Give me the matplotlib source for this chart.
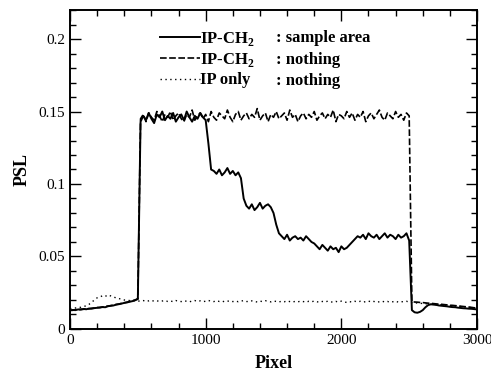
import numpy as np
import matplotlib
matplotlib.use('Agg')
import matplotlib.pyplot as plt
from matplotlib.ticker import MultipleLocator, FormatStrFormatter

plt.rcParams['font.family'] = ['Liberation Serif', 'DejaVu Serif']
plt.rcParams['mathtext.fontset'] = 'custom'
plt.rcParams['mathtext.rm'] = 'Liberation Serif'
plt.rcParams['mathtext.bf'] = 'Liberation Serif:bold'

# pixel positions, every 20 px from 0 to 3000
pixel = np.arange(0, 3001, 20)

# IP-CH2 : sample area (solid)
psl_sample = [
    .0128, .0131, .0130, .0135, .0133, .0138, .0136, .0141, .0140, .0144,
    .0146, .0149, .0151, .0150, .0157, .0160, .0162, .0168, .0171, .0175,
    .0180, .0183, .0188, .0192, .0198, .0210,
    .143, .147, .144, .149, .145, .142, .148, .146, .150, .144,
    .147, .145, .149, .143, .146, .148, .144, .150, .146, .143,
    .147, .145, .149, .146, .144,
    .128, .110,
    .109, .107, .110, .106, .108, .111, .107, .109, .106, .108,
    .104, .090,
    .085, .083, .086, .082, .084, .087, .083, .085, .086, .084,
    .080, .072, .066,
    .064, .062, .065, .061, .063, .064, .062, .063, .061, .064,
    .062, .060, .059,
    .057, .055, .058, .056, .054, .057, .055, .056, .053, .057,
    .055, .056, .058, .060,
    .062, .064, .063, .065, .062, .066, .064, .063, .065, .062,
    .064, .066, .063, .065, .064, .062, .065, .063, .064, .066, .061,
    .0130, .0115, .0112, .0118, .0130, .0150, .0165, .0170, .0168, .0166,
    .0162, .0160, .0158, .0156, .0153, .0151, .0150, .0147, .0145, .0143,
    .0142, .0140, .0139, .0137, .0135,
]

# IP-CH2 : nothing (dashed)
psl_ch2 = [
    .0130, .0129, .0134, .0132, .0137, .0136, .0140, .0139, .0143, .0145,
    .0148, .0147, .0152, .0155, .0158, .0161, .0165, .0169, .0172, .0177,
    .0181, .0185, .0190, .0195, .0200, .0205,
    .145, .148, .143, .149, .146, .144, .150, .147, .143, .148,
    .146, .150, .144, .147, .149, .145, .143, .148, .146, .151,
    .144, .147, .149, .145, .148, .143, .150, .146, .144, .149,
    .147, .145, .151, .146, .143, .148, .150, .144, .147, .149,
    .145, .148, .146, .152, .144, .147, .149, .143, .148, .146,
    .150, .145, .147, .149, .144, .151, .146, .148, .143, .147,
    .149, .145, .148, .146, .150, .144, .147, .149, .145, .148,
    .146, .151, .143, .148, .147, .145, .150, .146, .149, .144,
    .148, .146, .150, .143, .147, .149, .145, .148, .151, .146,
    .144, .149, .147, .145, .150, .146, .148, .144, .149, .147,
    .0188, .0186, .0185, .0183, .0182, .0180, .0178, .0177, .0175, .0173,
    .0171, .0170, .0168, .0166, .0164, .0163, .0161, .0159, .0157, .0155,
    .0153, .0151, .0149, .0146, .0143,
]

# IP only : nothing (dotted)
psl_ip = [
    .0140, .0142, .0145, .0147, .0150, .0155, .0160, .0170, .0185, .0200,
    .0215, .0220, .0230, .0225, .0235, .0228, .0220, .0215, .0210, .0205,
    .0200, .0198, .0196, .0195, .0194, .0193,
    .0192, .0196, .0190, .0194, .0198, .0191, .0195, .0189, .0193, .0197,
    .0190, .0194, .0188, .0196, .0192, .0189, .0195, .0191, .0187, .0193,
    .0196, .0190, .0194, .0188, .0192, .0197, .0191, .0189, .0195, .0190,
    .0193, .0187, .0191, .0195, .0189, .0193, .0188, .0192, .0196, .0190,
    .0188, .0194, .0190, .0186, .0192, .0189, .0195, .0191, .0187, .0193,
    .0190, .0186, .0192, .0188, .0194, .0189, .0185, .0191, .0187, .0193,
    .0189, .0185, .0191, .0187, .0193, .0188, .0184, .0190, .0186, .0192,
    .0188, .0184, .0190, .0186, .0192, .0187, .0183, .0189, .0185, .0191,
    .0187, .0191, .0185, .0189, .0193, .0186, .0190, .0184, .0188, .0192,
    .0186, .0190, .0184, .0188, .0192, .0185, .0189, .0187, .0191, .0186,
    .0182, .0180, .0179, .0177, .0176, .0174, .0173, .0171, .0170, .0168,
    .0167, .0165, .0164, .0162, .0161, .0159, .0158, .0156, .0155, .0153,
    .0152, .0150, .0149, .0147, .0145,
]

labels = ['IP-CH$_\\mathbf{2}$', 'IP-CH$_\\mathbf{2}$', 'IP only']
targets = ['sample area', 'nothing', 'nothing']

fig = plt.figure(figsize=(4.91, 3.75), dpi=100)
ax = fig.add_axes([0.1426, 0.1227, 0.8289, 0.8506])

h1, = ax.plot(pixel, psl_sample, color='black', lw=1.4, ls='-')
h2, = ax.plot(pixel, psl_ch2, color='black', lw=1.2, ls=(0, (4, 1.5)))
h3, = ax.plot(pixel, psl_ip, color='black', lw=1.0, ls=(0, (1, 2.5)))

ax.set_xlim(0, 3000)
ax.set_ylim(0, 0.22)
ax.xaxis.set_major_locator(MultipleLocator(1000))
ax.xaxis.set_minor_locator(MultipleLocator(200))
ax.yaxis.set_major_locator(MultipleLocator(0.05))
ax.yaxis.set_minor_locator(MultipleLocator(0.01))
ax.yaxis.set_major_formatter(FormatStrFormatter('%g'))
ax.tick_params(which='both', direction='in', top=True, right=True,
               labelsize=11, width=1.0)
ax.tick_params(which='major', length=8)
ax.tick_params(which='minor', length=4)
for s in ax.spines.values():
    s.set_linewidth(1.4)

ax.set_xlabel('Pixel', fontsize=13, fontweight='bold', labelpad=6)
ax.set_ylabel('PSL', fontsize=13, fontweight='bold', labelpad=6)

leg = ax.legend([h1, h2, h3], labels, loc='upper left',
                bbox_to_anchor=(0.185, 0.985), frameon=False,
                handlelength=2.4, handletextpad=0.0, labelspacing=0.2,
                prop={'size': 12, 'weight': 'bold'})
row_y = [0.912, 0.842, 0.776]
for y, t in zip(row_y, targets):
    ax.text(0.505, y, ': ' + t, transform=ax.transAxes, fontsize=12,
            fontweight='bold', va='center', ha='left')

fig.savefig('out.png', dpi=100)
